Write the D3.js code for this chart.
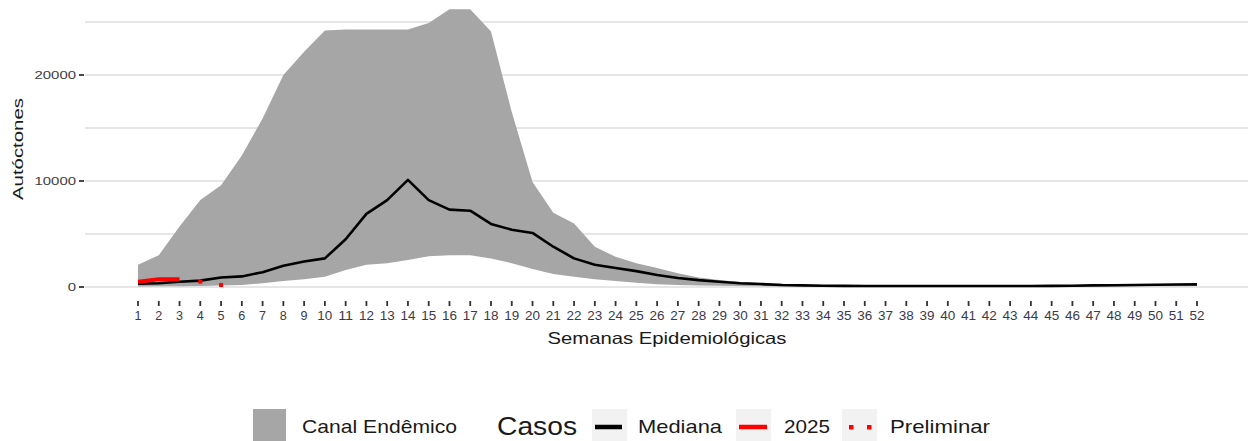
<!DOCTYPE html>
<html><head><meta charset="utf-8">
<script src="https://cdn.jsdelivr.net/npm/d3@7"></script>
<style>body{margin:0;background:#fff}svg{display:block;font-family:"Liberation Sans",Arial,sans-serif}</style>
</head><body><svg id="c" width="1248" height="441"></svg>
<script>
const weeks = [1,2,3,4,5,6,7,8,9,10,11,12,13,14,15,16,17,18,19,20,21,22,23,24,25,26,27,28,29,30,31,32,33,34,35,36,37,38,39,40,41,42,43,44,45,46,47,48,49,50,51,52];
const upper = [2100,3000,5700,8200,9600,12400,15900,20000,22200,24200,24300,24300,24300,24300,24900,26200,26200,24100,16500,9900,7000,6000,3800,2850,2250,1800,1300,900,650,480,380,300,230,190,180,170,170,170,170,170,170,170,170,170,180,190,210,230,250,270,290,310];
const median = [300,350,500,600,900,1000,1400,2000,2400,2700,4500,6900,8200,10100,8200,7300,7200,5950,5400,5100,3800,2700,2100,1800,1500,1130,850,650,500,350,280,190,150,120,110,100,100,100,100,100,100,100,100,100,110,120,150,170,190,210,230,250];
const lower = [50,60,80,100,150,200,350,560,720,970,1600,2100,2250,2550,2900,3000,3000,2700,2250,1700,1230,970,720,560,400,250,200,150,110,90,70,50,40,30,30,30,30,30,30,30,30,30,30,30,30,30,40,50,60,70,80,90];
const weeks2025 = [1,2,3];
const cases2025 = [500,720,720];
const weeksPrelim = [4,5];
const casesPrelim = [500,190];
const yTicks = [0,10000,20000];
const yMinor = [5000,15000,25000];
const legendLabels = ["Canal Endêmico","Casos","Mediana","2025","Preliminar"];

const svg = d3.select("#c");
const x = d3.scaleLinear().domain([1,52]).range([138,1197]);
const y = d3.scaleLinear().domain([0,20000]).range([287,75]);
const panelL = 85, panelR = 1250;

// gridlines
svg.append("g").selectAll("line").data(yTicks.concat(yMinor)).join("line")
  .attr("x1",panelL).attr("x2",panelR).attr("y1",d=>y(d)).attr("y2",d=>y(d))
  .attr("stroke","#dedede").attr("stroke-width",1.4);

// band
const band = weeks.map((w,i)=>({w,lo:lower[i],hi:upper[i]}));
svg.append("path").datum(band)
  .attr("d", d3.area().x(d=>x(d.w)).y0(d=>y(d.lo)).y1(d=>y(d.hi)))
  .attr("fill","#a6a6a6");

// median
svg.append("path").datum(weeks.map((w,i)=>({w,v:median[i]})))
  .attr("d", d3.line().x(d=>x(d.w)).y(d=>y(d.v)))
  .attr("fill","none").attr("stroke","#000").attr("stroke-width",2.6).attr("stroke-linejoin","round");

// 2025
svg.append("path").datum(weeks2025.map((w,i)=>({w,v:cases2025[i]})))
  .attr("d", d3.line().x(d=>x(d.w)).y(d=>y(d.v)))
  .attr("fill","none").attr("stroke","#ff0000").attr("stroke-width",4);

// preliminar dots
svg.append("g").selectAll("rect").data(weeksPrelim.map((w,i)=>({w,v:casesPrelim[i]}))).join("rect")
  .attr("x",d=>x(d.w)-2).attr("y",d=>y(d.v)-2).attr("width",4).attr("height",4).attr("fill","#ff0000");

// y axis
const ya = svg.append("g");
ya.selectAll("line").data(yTicks).join("line")
  .attr("x1",79).attr("x2",84).attr("y1",d=>y(d)).attr("y2",d=>y(d))
  .attr("stroke","#333").attr("stroke-width",1.8);
ya.selectAll("text").data(yTicks).join("text")
  .attr("x",76).attr("y",d=>y(d)+3.8)
  .attr("text-anchor","end").attr("font-size",10.5).attr("fill","#404040")
  .attr("textLength",d=>String(d).length*8.3).attr("lengthAdjust","spacingAndGlyphs").text(d=>d);

// x axis
const xa = svg.append("g");
xa.selectAll("line").data(weeks).join("line")
  .attr("x1",d=>x(d)).attr("x2",d=>x(d)).attr("y1",301).attr("y2",306)
  .attr("stroke","#333").attr("stroke-width",1.8);
xa.selectAll("text").data(weeks).join("text")
  .attr("x",d=>x(d)).attr("y",320).attr("text-anchor","middle")
  .attr("font-size",13).attr("fill","#3a3a4a")
  .attr("textLength",d=>d<10?7:15).attr("lengthAdjust","spacingAndGlyphs").text(d=>d);

// titles
svg.append("text").attr("x",667).attr("y",344).attr("text-anchor","middle")
  .attr("font-size",16.5).attr("fill","#1a1a1a").attr("textLength",239).attr("lengthAdjust","spacingAndGlyphs")
  .text("Semanas Epidemiológicas");
svg.append("text").attr("transform","translate(23,149) rotate(-90)").attr("text-anchor","middle")
  .attr("font-size",15).attr("fill","#1a1a1a").attr("textLength",102).attr("lengthAdjust","spacingAndGlyphs")
  .text("Autóctones");

// legend
const lg = svg.append("g");
lg.append("rect").attr("x",253).attr("y",409).attr("width",33).attr("height",34).attr("fill","#a6a6a6");
lg.append("text").attr("x",302).attr("y",433).attr("font-size",19).attr("fill","#1a1a1a")
  .attr("textLength",155).attr("lengthAdjust","spacingAndGlyphs").text(legendLabels[0]);
lg.append("text").attr("x",497).attr("y",435).attr("font-size",25).attr("fill","#1a1a1a")
  .attr("textLength",80).attr("lengthAdjust","spacingAndGlyphs").text(legendLabels[1]);
const keys = [{x:592,type:"median"},{x:736,type:"y2025"},{x:842,type:"prelim"}];
keys.forEach(k=>{
  lg.append("rect").attr("x",k.x).attr("y",409).attr("width",35).attr("height",34).attr("fill","#f2f2f2");
  if(k.type==="median") lg.append("line").attr("x1",k.x+3).attr("x2",k.x+30).attr("y1",427).attr("y2",427).attr("stroke","#000").attr("stroke-width",4.5);
  if(k.type==="y2025") lg.append("line").attr("x1",k.x+3).attr("x2",k.x+31).attr("y1",427).attr("y2",427).attr("stroke","#ff0000").attr("stroke-width",4.5);
  if(k.type==="prelim") [k.x+9,k.x+27].forEach(cx=>lg.append("rect").attr("x",cx-2).attr("y",425).attr("width",4.5).attr("height",4.5).attr("fill","#ff0000"));
});
lg.append("text").attr("x",638).attr("y",433).attr("font-size",19).attr("fill","#1a1a1a")
  .attr("textLength",84).attr("lengthAdjust","spacingAndGlyphs").text(legendLabels[2]);
lg.append("text").attr("x",784).attr("y",433).attr("font-size",19).attr("fill","#1a1a1a")
  .attr("textLength",46).attr("lengthAdjust","spacingAndGlyphs").text(legendLabels[3]);
lg.append("text").attr("x",890).attr("y",433).attr("font-size",19).attr("fill","#1a1a1a")
  .attr("textLength",100).attr("lengthAdjust","spacingAndGlyphs").text(legendLabels[4]);
</script></body></html>
